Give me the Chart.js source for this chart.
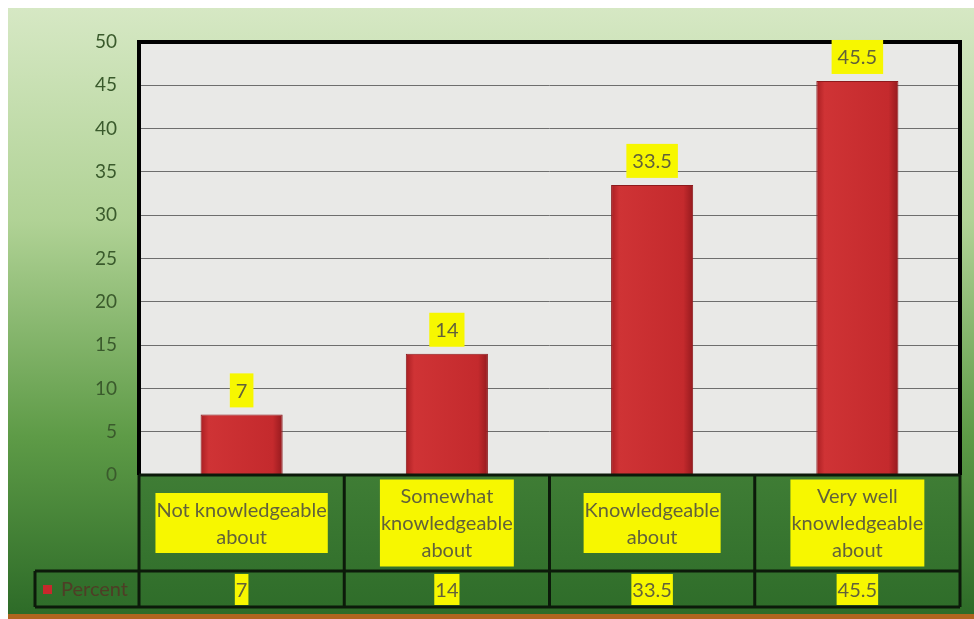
<!DOCTYPE html>
<html>
<head>
<meta charset="utf-8">
<script src="https://cdn.jsdelivr.net/npm/chart.js@4.4.1/dist/chart.umd.min.js"></script>
<style>
  html, body { margin: 0; padding: 0; background: #fff; }
  #wrap { width: 974px; height: 619px; }
</style>
</head>
<body>
<div id="wrap"><canvas id="chart" width="974" height="619"></canvas></div>
<script>
// chart data
const categories = [
    ["Not knowledgeable", "about"],
    ["Somewhat", "knowledgeable", "about"],
    ["Knowledgeable", "about"],
    ["Very well", "knowledgeable", "about"]
];
const percentValues = [7, 14, 33.5, 45.5];
const seriesName = "Percent";
const yMin = 0;
const yMax = 50;
const yStep = 5;

const FONT = "Lato, 'Open Sans', sans-serif";
const TEXT_COLOR = "#62623a";
const YELLOW = "#f7f700";

// green gradient behind everything + grey plot area
const backgroundPlugin = {
    id: "backgroundPlugin",
    beforeDraw(chart) {
        const ctx = chart.ctx;
        const w = chart.width, h = chart.height;
        ctx.save();
        ctx.fillStyle = "#ffffff";
        ctx.fillRect(0, 0, w, h);
        const g = ctx.createLinearGradient(0, 8, 0, h);
        g.addColorStop(0, "#d6e8c4");
        g.addColorStop(0.35, "#b0d295");
        g.addColorStop(0.7, "#5e9b47");
        g.addColorStop(1, "#2c6a27");
        ctx.fillStyle = g;
        ctx.fillRect(8, 8, w - 8, h - 8);
        ctx.fillStyle = "#b0651e";
        ctx.fillRect(8, h - 5, w - 8, 5);

        const a = chart.chartArea;
        ctx.fillStyle = "#e9e9e7";
        ctx.fillRect(a.left, a.top, a.right - a.left, a.bottom - a.top);
        ctx.restore();
    }
};

function yellowLabel(ctx, lines, cx, topY, lineH, padX, padY) {
    let maxW = 0;
    lines.forEach(l => { maxW = Math.max(maxW, ctx.measureText(l).width); });
    const boxH = lines.length * lineH + padY * 2;
    ctx.fillStyle = YELLOW;
    ctx.fillRect(cx - maxW / 2 - padX, topY, maxW + padX * 2, boxH);
    ctx.fillStyle = TEXT_COLOR;
    lines.forEach((l, i) => {
        ctx.fillText(l, cx, topY + padY + lineH * i + lineH / 2 + 1);
    });
    return boxH;
}

// value labels above the bars, borders of the plot, the data table below
const tablePlugin = {
    id: "tablePlugin",
    afterDatasetsDraw(chart) {
        const ctx = chart.ctx;
        const a = chart.chartArea;
        const meta = chart.getDatasetMeta(0);
        ctx.save();

        // plot frame
        ctx.strokeStyle = "#000";
        ctx.lineWidth = 4;
        ctx.beginPath();
        ctx.moveTo(a.left, a.bottom);
        ctx.lineTo(a.left, a.top);
        ctx.lineTo(a.right, a.top);
        ctx.lineTo(a.right, a.bottom);
        ctx.stroke();

        ctx.font = "20px " + FONT;
        ctx.textAlign = "center";
        ctx.textBaseline = "middle";
        meta.data.forEach((bar, i) => {
            const txt = String(percentValues[i]);
            const boxH = 34;
            yellowLabel(ctx, [txt], bar.x, bar.y - 7 - boxH, 24, 6, 5);
        });
        ctx.restore();
    },
    afterDraw(chart) {
        const ctx = chart.ctx;
        const a = chart.chartArea;
        const x = chart.scales.x;
        const row1Top = a.bottom;
        const row1Bottom = a.bottom + 96;
        const row2Bottom = row1Bottom + 36;
        const legendLeft = 35;
        const n = categories.length;
        const step = (a.right - a.left) / n;

        ctx.save();
        // table cell fill
        const g = ctx.createLinearGradient(0, row1Top, 0, row2Bottom);
        g.addColorStop(0, "#3f7d35");
        g.addColorStop(1, "#2f6d2a");
        ctx.fillStyle = g;
        ctx.fillRect(a.left, row1Top, a.right - a.left, row2Bottom - row1Top);
        ctx.fillRect(legendLeft, row1Bottom, a.left - legendLeft, row2Bottom - row1Bottom);

        // category labels
        ctx.font = "20px " + FONT;
        ctx.textAlign = "center";
        ctx.textBaseline = "middle";
        categories.forEach((lines, i) => {
            const cx = x.getPixelForValue(i);
            const lineH = 27;
            const boxH = lines.length * lineH + 6;
            const top = row1Top + (row1Bottom - row1Top - boxH) / 2;
            yellowLabel(ctx, lines, cx, top, lineH, 1, 3);
        });

        // value row
        percentValues.forEach((v, i) => {
            const cx = x.getPixelForValue(i);
            yellowLabel(ctx, [String(v)], cx, row1Bottom + 3, 27, 1, 2);
        });

        // legend cell
        ctx.fillStyle = "#c8282c";
        ctx.fillRect(legendLeft + 8, row1Bottom + 14, 9, 9);
        ctx.fillStyle = "#4f3d26";
        ctx.textAlign = "left";
        ctx.fillText(seriesName, legendLeft + 26, (row1Bottom + row2Bottom) / 2 + 1);

        // grid lines of the table
        ctx.strokeStyle = "#0c1a0a";
        ctx.lineWidth = 3;
        ctx.beginPath();
        ctx.moveTo(a.left, row1Top);
        ctx.lineTo(a.right, row1Top);
        ctx.moveTo(legendLeft, row1Bottom);
        ctx.lineTo(a.right, row1Bottom);
        ctx.moveTo(legendLeft, row2Bottom);
        ctx.lineTo(a.right, row2Bottom);
        ctx.moveTo(legendLeft, row1Bottom);
        ctx.lineTo(legendLeft, row2Bottom);
        for (let i = 0; i <= n; i++) {
            const px = a.left + step * i;
            ctx.moveTo(px, row1Top);
            ctx.lineTo(px, row2Bottom);
        }
        ctx.stroke();
        ctx.restore();
    }
};

// shaded bar fill, centred on the category position from the x scale
function barFill(context) {
    const chart = context.chart;
    const xs = chart.scales.x;
    if (!xs || !chart.chartArea) return "#c8282c";
    const cx = xs.getPixelForValue(context.dataIndex);
    const half = (xs.width / categories.length) * 0.4 / 2;
    if (!Number.isFinite(cx) || !Number.isFinite(half)) return "#c8282c";
    const g = chart.ctx.createLinearGradient(cx - half, 0, cx + half, 0);
    g.addColorStop(0, "#a91e22");
    g.addColorStop(0.1, "#cf3335");
    g.addColorStop(0.88, "#c42a2d");
    g.addColorStop(1, "#951a1e");
    return g;
}

new Chart(document.getElementById("chart"), {
    type: "bar",
    data: {
        labels: categories,
        datasets: [{
            label: seriesName,
            data: percentValues,
            backgroundColor: barFill,
            borderColor: "#8e1a1d",
            borderWidth: 1,
            categoryPercentage: 0.8,
            barPercentage: 0.5
        }]
    },
    options: {
        responsive: false,
        animation: false,
        layout: {
            padding: { left: 0, right: 14, top: 42, bottom: 144 }
        },
        plugins: {
            legend: { display: false },
            tooltip: { enabled: false }
        },
        scales: {
            x: {
                display: false
            },
            y: {
                min: yMin,
                max: yMax,
                afterFit(scale) { scale.width = 139; },
                ticks: {
                    stepSize: yStep,
                    padding: 22,
                    color: "#3a5a2c",
                    font: { family: FONT, size: 19 }
                },
                grid: {
                    color: "#6e6e6e",
                    lineWidth: 1,
                    drawTicks: false
                },
                border: { display: false }
            }
        }
    },
    plugins: [backgroundPlugin, tablePlugin]
});
</script>
</body>
</html>
